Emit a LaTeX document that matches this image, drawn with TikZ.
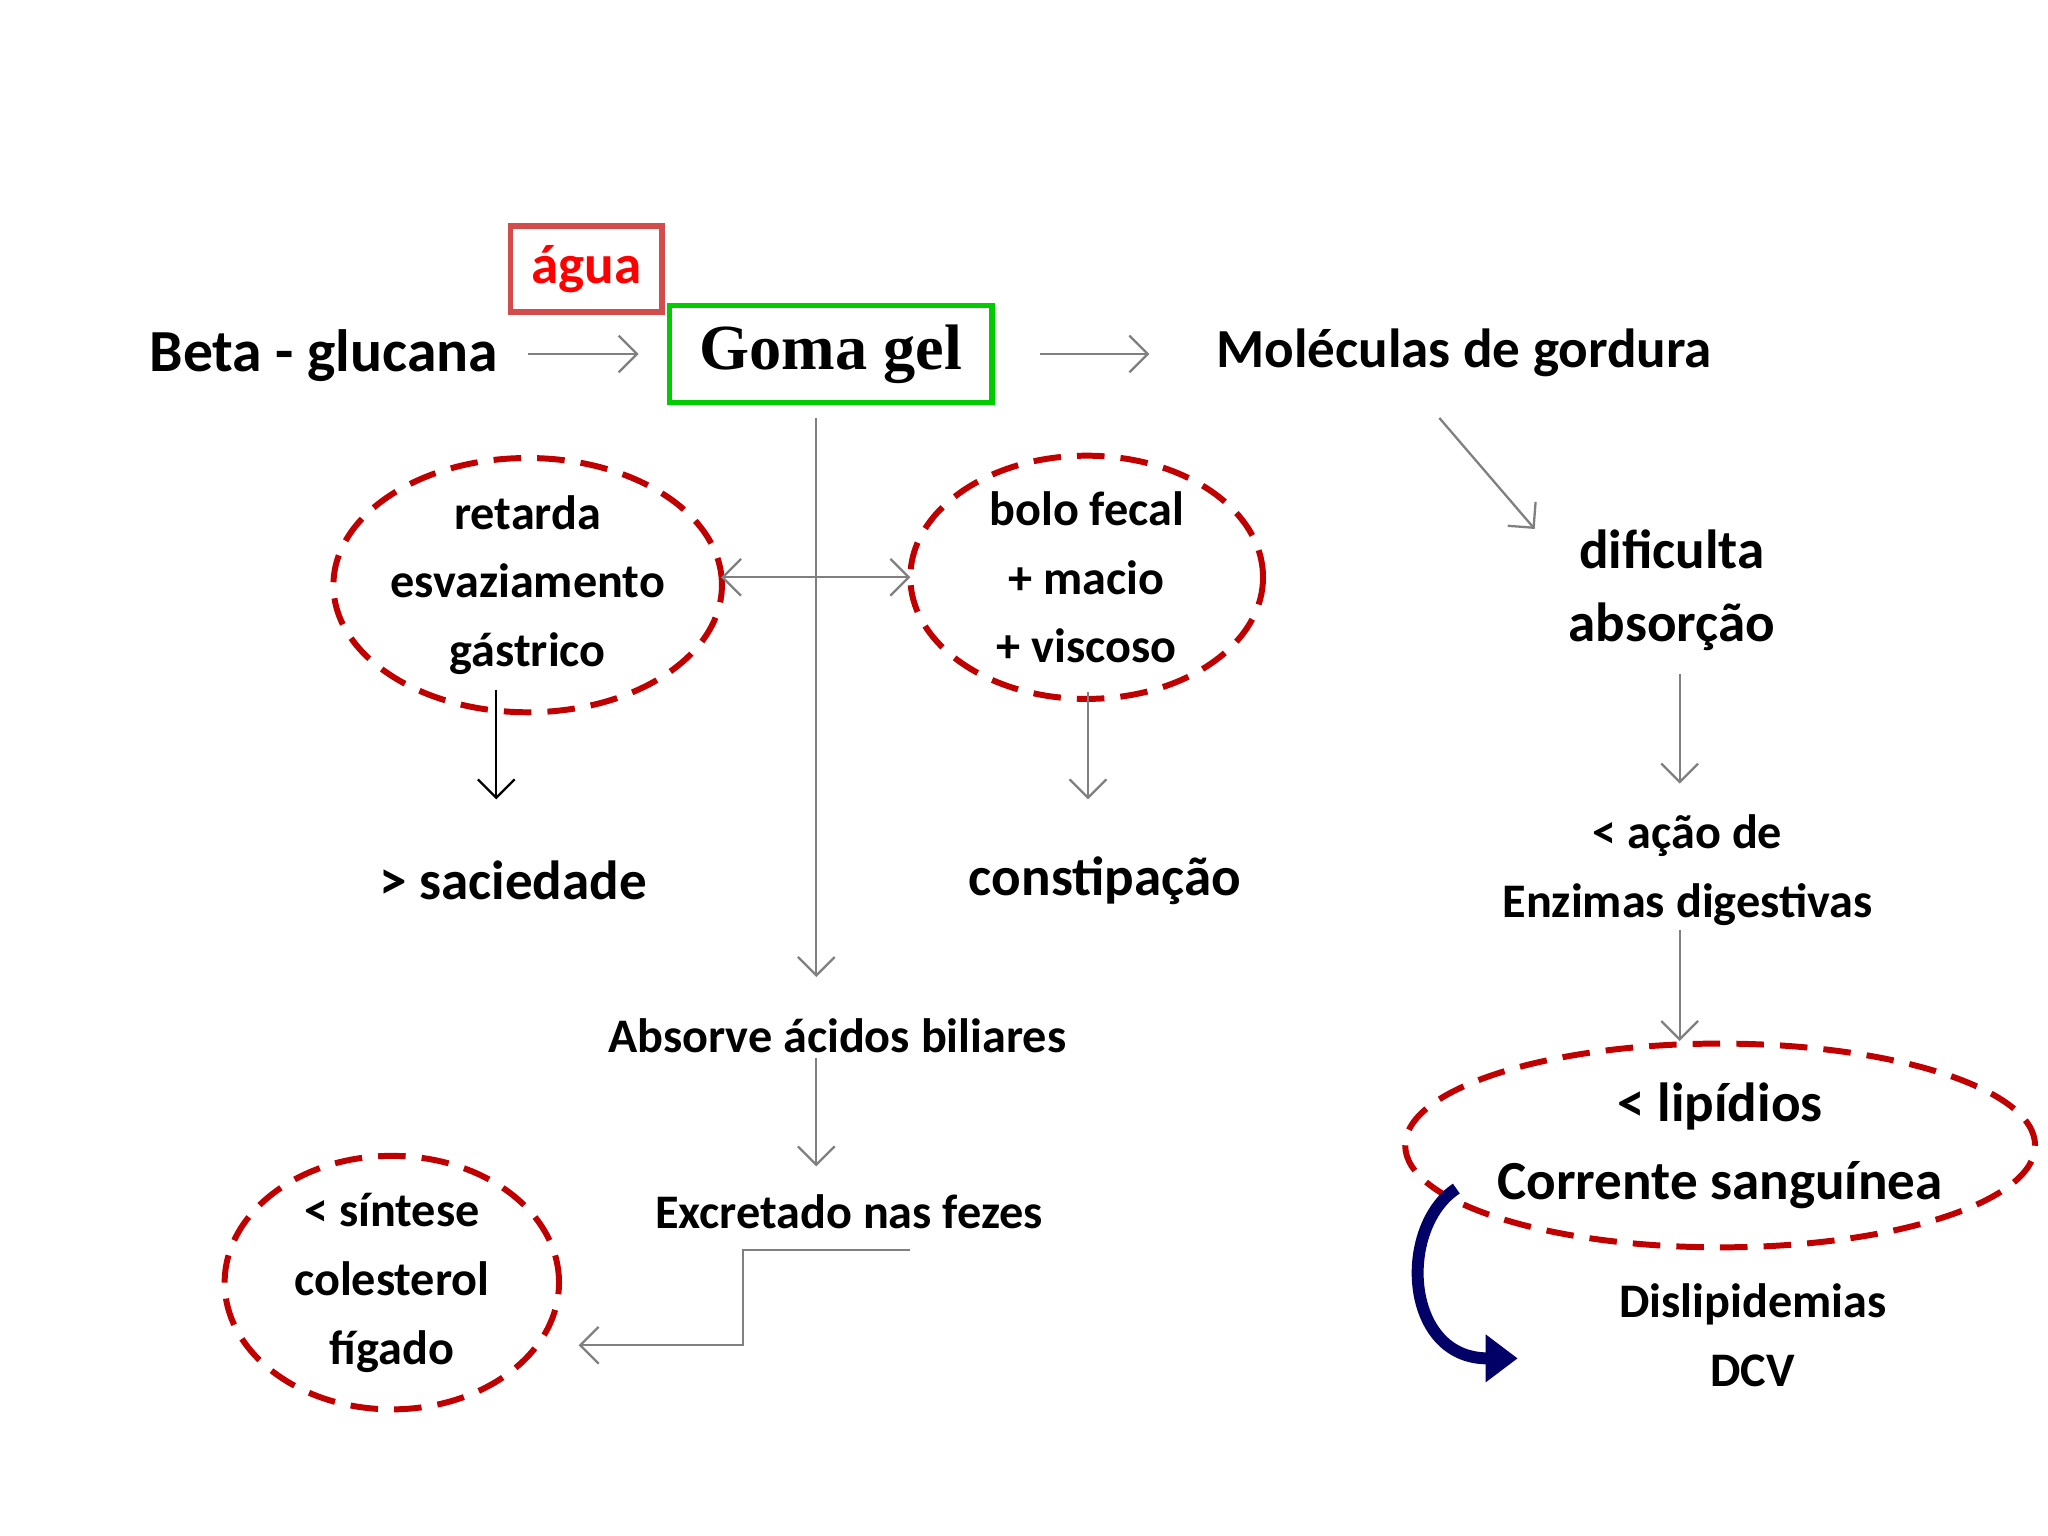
\documentclass[tikz,border=0pt]{standalone}
\usepackage{fontspec}
\setmainfont{Carlito}
\newfontfamily\serifb{Liberation Serif}
\usetikzlibrary{arrows.meta,shapes.geometric}
\definecolor{dred}{HTML}{C00000}
\definecolor{arrg}{HTML}{808080}
\tikzset{
  lbl/.style={font=\bfseries, align=center, inner sep=0pt},
  oval/.style={ellipse, draw=dred, line width=1.3pt, dash pattern=on 6pt off 3.5pt, inner sep=0pt},
  garr/.style={draw=arrg, line width=0.5pt, -{Straight Barb[length=4pt,width=8pt]}},
}
\begin{document}
\begin{tikzpicture}[x=0.01cm,y=-0.01cm]
\useasboundingbox (0,0) rectangle (1568,1176);
\fill[white] (0,0) rectangle (1568,1176);
% top row
\node[lbl, font=\bfseries\fontsize{13}{15}\selectfont] (beta) at (248,272) {Beta - glucana};
\node[draw=red!60!black!70!red, draw=dred!70!white, line width=1.2pt, minimum width=116*0.01cm, minimum height=66*0.01cm, text=red, font=\bfseries\fontsize{12}{14}\selectfont] (agua) at (449,206) {água};
\node[draw=green!80!black, line width=1.2pt, minimum width=247*0.01cm, minimum height=74*0.01cm, font=\serifb\bfseries\fontsize{14}{16}\selectfont] (goma) at (636,271) {Goma gel};
\node[lbl, font=\bfseries\fontsize{12}{14}\selectfont] (mol) at (1121,270) {Moléculas de gordura};
\coordinate (a1) at (404,271); \coordinate (a2) at (489,271);
\coordinate (b1) at (796,271); \coordinate (b2) at (880,271);
\draw[garr] (a1) -- (a2);
\draw[garr] (b1) -- (b2);
% ovals
\node[oval, minimum width=270*0.01cm, minimum height=184*0.01cm, font=\bfseries\fontsize{10.5}{15}\selectfont, align=center] (ret) at (404,448) {retarda\\esvaziamento\\gástrico};
\node[oval, minimum width=270*0.01cm, minimum height=170*0.01cm, font=\bfseries\fontsize{10.5}{15}\selectfont, align=center] (bolo) at (832,442) {bolo fecal\\+ macio\\+ viscoso};
\node[oval, minimum width=256*0.01cm, minimum height=170*0.01cm, font=\bfseries\fontsize{10.5}{15}\selectfont, align=center] (sint) at (300,982) {< síntese\\colesterol\\fígado};
\node[oval, minimum width=406*0.01cm, minimum height=156*0.01cm, font=\bfseries\fontsize{12}{17}\selectfont, align=center] (lip) at (1317,877) {< lipídios\\Corrente sanguínea};
% labels
\node[lbl, font=\bfseries\fontsize{12}{14}\selectfont] (sac) at (393,674) {> saciedade};
\node[lbl, font=\bfseries\fontsize{12}{14}\selectfont] (const) at (846,674) {constipação};
\node[lbl, font=\bfseries\fontsize{12}{16}\selectfont] (dif) at (1280,452) {dificulta\\absorção};
\node[lbl, font=\bfseries\fontsize{10.5}{15}\selectfont] (acao) at (1292,666) {< ação de\\Enzimas digestivas};
\node[lbl, font=\bfseries\fontsize{10.5}{13}\selectfont] (abs) at (641,793) {Absorve ácidos biliares};
\node[lbl, font=\bfseries\fontsize{10.5}{13}\selectfont] (exc) at (650,928) {Excretado nas fezes};
\node[lbl, font=\bfseries\fontsize{10.5}{15}\selectfont] (dis) at (1342,1022) {Dislipidemias\\DCV};
% connectors
\coordinate (v1) at (625,320); \coordinate (v2) at (625,748);
\draw[garr] (v1) -- (v2);
\coordinate (h1) at (552,442); \coordinate (h2) at (697,442);
\draw[garr, {Straight Barb[length=4pt,width=8pt]}-{Straight Barb[length=4pt,width=8pt]}] (h1) -- (h2);
\coordinate (s1) at (380,528); \coordinate (s2) at (380,612);
\draw[garr, draw=black] (s1) -- (s2);
\coordinate (c1) at (833,530); \coordinate (c2) at (833,612);
\draw[garr] (c1) -- (c2);
\coordinate (m1) at (1102,320); \coordinate (m2) at (1175,405);
\draw[garr] (m1) -- (m2);
\coordinate (d1) at (1286,516); \coordinate (d2) at (1286,600);
\draw[garr] (d1) -- (d2);
\coordinate (e1) at (1286,712); \coordinate (e2) at (1286,797);
\draw[garr] (e1) -- (e2);
\coordinate (x1) at (625,810); \coordinate (x2) at (625,893);
\draw[garr] (x1) -- (x2);
\coordinate (f1) at (697,957); \coordinate (f2) at (443,1030);
\draw[garr] (f1) -- (569,957) -- (569,1030) -- (f2);
% blue curved arrow
\coordinate (k1) at (1115,910); \coordinate (k2) at (1162,1040);
\draw[draw=blue!40!black, line width=2.6pt, -{Triangle[length=7pt,width=10pt]}] (k1) .. controls (1070,940) and (1075,1040) .. (k2);
\end{tikzpicture}
\end{document}
